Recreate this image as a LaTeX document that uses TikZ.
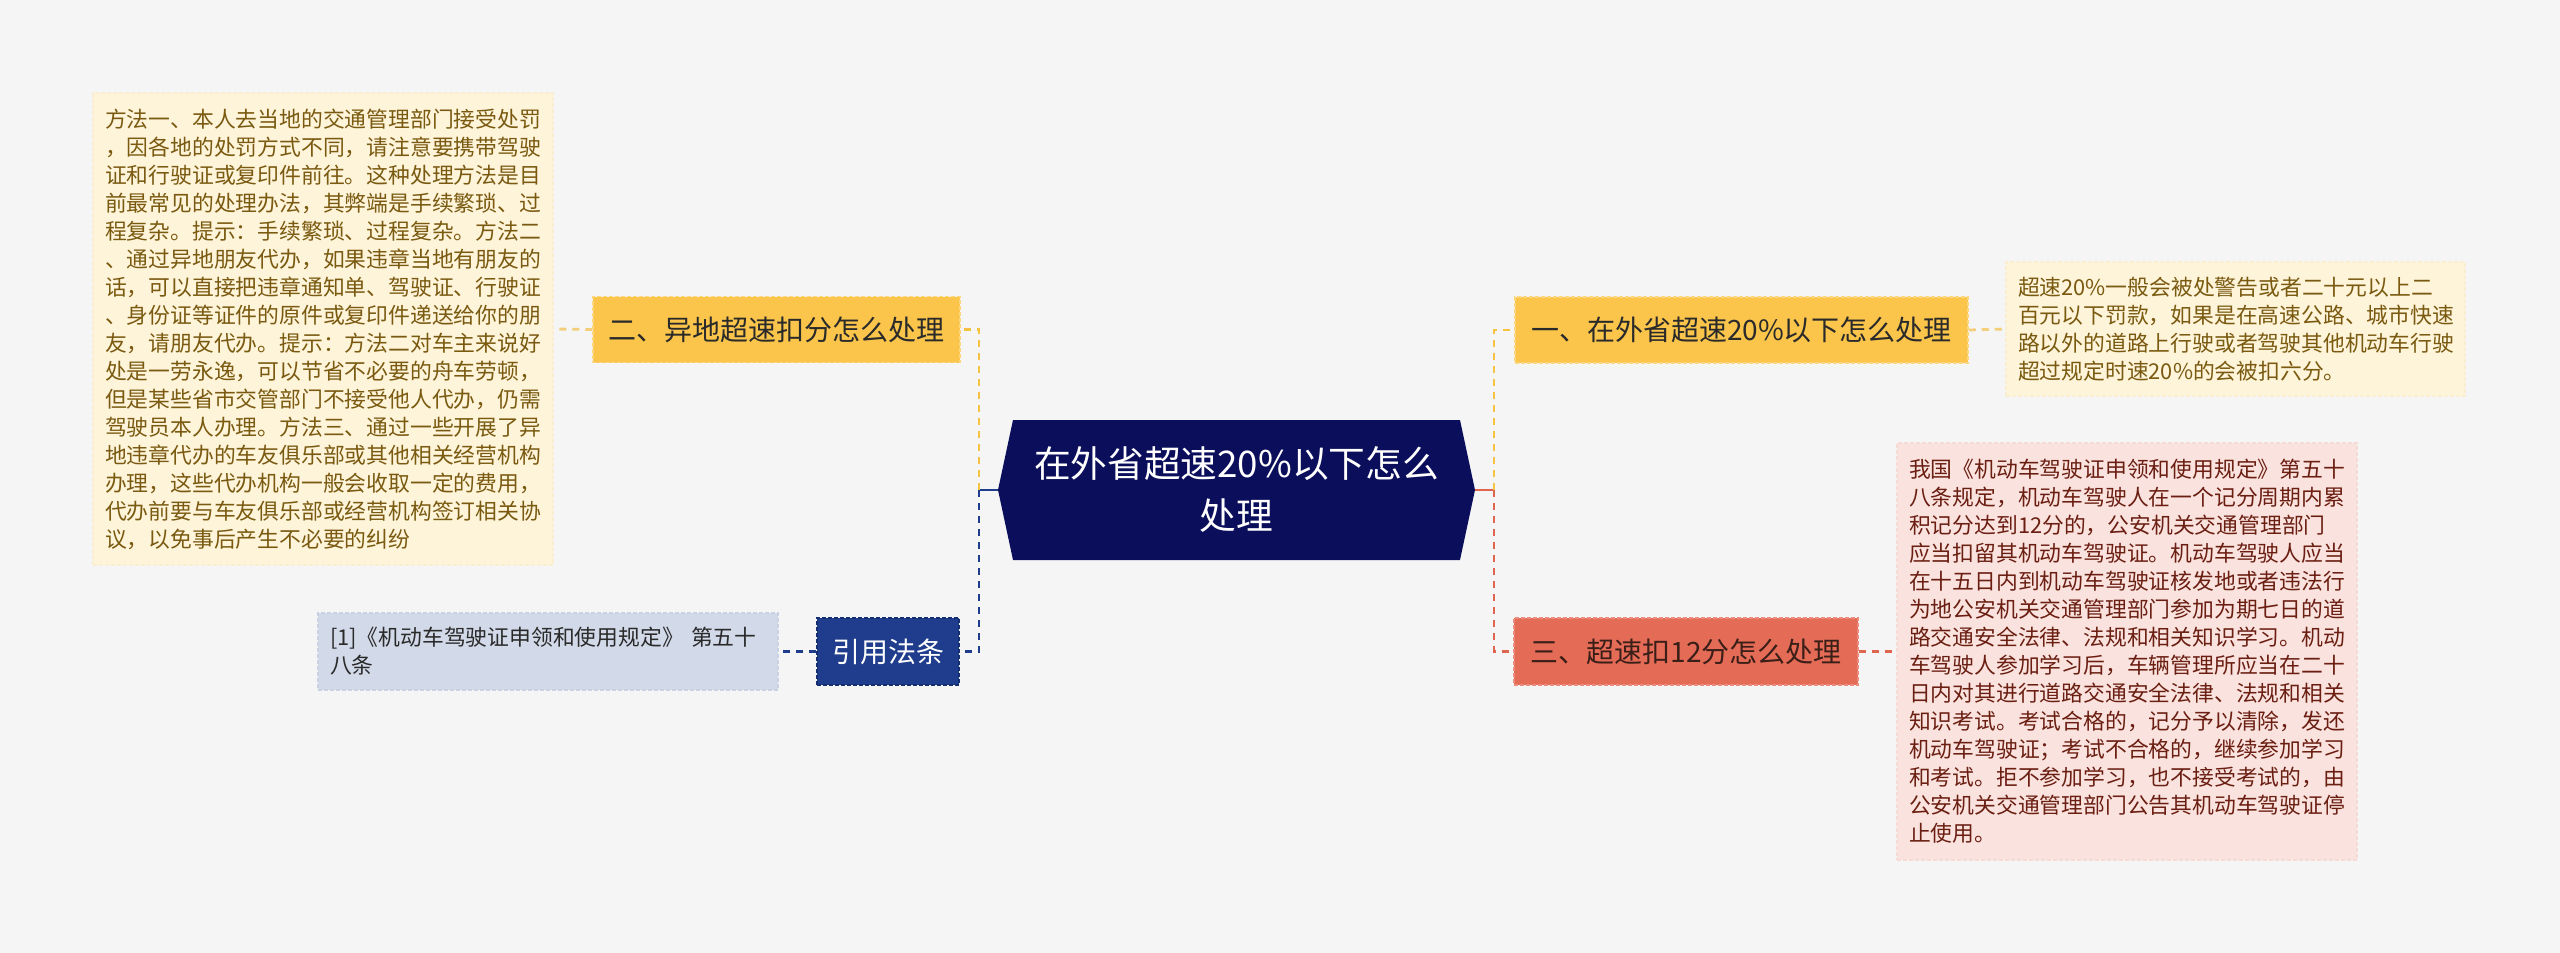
\documentclass[tikz,border=0pt]{standalone}
\usepackage{fontspec}
\setmainfont{Noto Sans CJK SC}
\definecolor{bg}{HTML}{F5F5F5}
\definecolor{navy}{HTML}{0B0F5B}
\definecolor{ylw}{HTML}{FAC54A}
\definecolor{ylwborder}{HTML}{FCD77E}
\definecolor{ylwline}{HTML}{F5C242}
\definecolor{ylwleaf}{HTML}{F3CF7C}
\definecolor{cream}{HTML}{FEF4DA}
\definecolor{creamborder}{HTML}{FBEED0}
\definecolor{creamtxt}{HTML}{7A5A10}
\definecolor{redfill}{HTML}{E46B56}
\definecolor{redborder}{HTML}{EC8C7C}
\definecolor{redline}{HTML}{E0654F}
\definecolor{pink}{HTML}{FAE3DE}
\definecolor{pinkborder}{HTML}{F6DAD4}
\definecolor{pinktxt}{HTML}{6B1E12}
\definecolor{blu}{HTML}{1F3D8C}
\definecolor{bluborder}{HTML}{142E72}
\definecolor{refbg}{HTML}{D2D9E8}
\definecolor{refborder}{HTML}{CAD1E2}
\definecolor{dtxt}{HTML}{2A2A2A}
\definecolor{redtxt}{HTML}{3A1E18}
\begin{document}
\begin{tikzpicture}[x=1pt,y=-1pt,
  conn/.style={line width=2.8pt, dash pattern=on 7pt off 6pt},
  solidconn/.style={line width=2.8pt},
  topic/.style={inner sep=0pt, minimum height=66pt, font=\fontsize{28}{34}\selectfont, text=dtxt, draw, line width=1.5pt, dash pattern=on 4pt off 2pt},
  leaf/.style={inner xsep=12pt, inner ysep=0pt, align=left, font=\fontsize{21.8}{28}\selectfont, draw, line width=1.2pt, dash pattern=on 4pt off 2pt}
]
\fill[bg] (0,0) rectangle (2560,953);
\useasboundingbox (0,0) rectangle (2560,953);

% central topic
\fill[navy] (998,490) -- (1013,420) -- (1460,420) -- (1475,490) -- (1460,560) -- (1013,560) -- cycle;
\node[minimum width=447pt, minimum height=140pt, inner sep=0pt, align=center, text=white,
      font=\fontsize{36.7}{52}\selectfont] (c) at (1236.5,490) {在外省超速20\%以下怎么\\处理};

% main topics
\node[topic, fill=ylw, draw=ylwborder, minimum width=453pt] (n1) at (1741.5,330) {一、在外省超速20\%以下怎么处理};
\node[topic, fill=ylw, draw=ylwborder, minimum width=367pt] (n2) at (776.5,329.5) {二、异地超速扣分怎么处理};
\node[topic, fill=redfill, draw=redborder, text=redtxt, minimum width=344pt, minimum height=67pt] (n3) at (1686,651.5) {三、超速扣12分怎么处理};
\node[topic, fill=blu, draw=bluborder, text=white, minimum width=142pt, minimum height=67pt] (nref) at (888,651.5) {引用法条};

% leaves
\node[leaf, fill=cream, draw=creamborder, text=creamtxt, text width=436pt, minimum height=472pt] (lb) at (323,329) {方法一、本人去当地的交通管理部门接受处罚\\，因各地的处罚方式不同，请注意要携带驾驶\\证和行驶证或复印件前往。这种处理方法是目\\前最常见的处理办法，其弊端是手续繁琐、过\\程复杂。提示：手续繁琐、过程复杂。方法二\\、通过异地朋友代办，如果违章当地有朋友的\\话，可以直接把违章通知单、驾驶证、行驶证\\、身份证等证件的原件或复印件递送给你的朋\\友，请朋友代办。提示：方法二对车主来说好\\处是一劳永逸，可以节省不必要的舟车劳顿，\\但是某些省市交管部门不接受他人代办，仍需\\驾驶员本人办理。方法三、通过一些开展了异\\地违章代办的车友俱乐部或其他相关经营机构\\办理，这些代办机构一般会收取一定的费用，\\代办前要与车友俱乐部或经营机构签订相关协\\议，以免事后产生不必要的纠纷};
\node[leaf, fill=cream, draw=creamborder, text=creamtxt, text width=435pt, minimum height=134pt] (r1) at (2235.5,329) {超速20\%一般会被处警告或者二十元以上二\\百元以下罚款，如果是在高速公路、城市快速\\路以外的道路上行驶或者驾驶其他机动车行驶\\超过规定时速20\%的会被扣六分。};
\node[leaf, fill=pink, draw=pinkborder, text=pinktxt, text width=436pt, minimum height=417pt] (r3) at (2127,651.5) {我国《机动车驾驶证申领和使用规定》第五十\\八条规定，机动车驾驶人在一个记分周期内累\\积记分达到12分的，公安机关交通管理部门\\应当扣留其机动车驾驶证。机动车驾驶人应当\\在十五日内到机动车驾驶证核发地或者违法行\\为地公安机关交通管理部门参加为期七日的道\\路交通安全法律、法规和相关知识学习。机动\\车驾驶人参加学习后，车辆管理所应当在二十\\日内对其进行道路交通安全法律、法规和相关\\知识考试。考试合格的，记分予以清除，发还\\机动车驾驶证；考试不合格的，继续参加学习\\和考试。拒不参加学习，也不接受考试的，由\\公安机关交通管理部门公告其机动车驾驶证停\\止使用。};
\node[leaf, fill=refbg, draw=refborder, text=dtxt, text width=436pt, minimum height=77pt] (rb) at (548,651.5) {[1]《机动车驾驶证申领和使用规定》 第五十\\八条};

% connectors
\coordinate (cl) at ([xshift=-15pt]c.west);
\coordinate (cr) at ([xshift=15pt]c.east);
\coordinate (sl) at (979,490);
\coordinate (sr) at (1494,490);
\draw[solidconn, blu] (cl) -- (sl);
\draw[solidconn, redline] (cr) -- (sr);
\draw[conn, ylwline] (sl) -- (sl |- n2.east) -- (n2.east);
\draw[conn, blu] (sl) -- (sl |- nref.east) -- (nref.east);
\draw[conn, ylwline] (sr) -- (sr |- n1.west) -- (n1.west);
\draw[conn, redline] (sr) -- (sr |- n3.west) -- (n3.west);
\draw[conn, ylwleaf] (n2.west) -- (lb.east);
\draw[conn, blu] (nref.west) -- (rb.east);
\draw[conn, ylwleaf] (n1.east) -- (r1.west);
\draw[conn, redline] (n3.east) -- (r3.west);
\end{tikzpicture}
\end{document}
